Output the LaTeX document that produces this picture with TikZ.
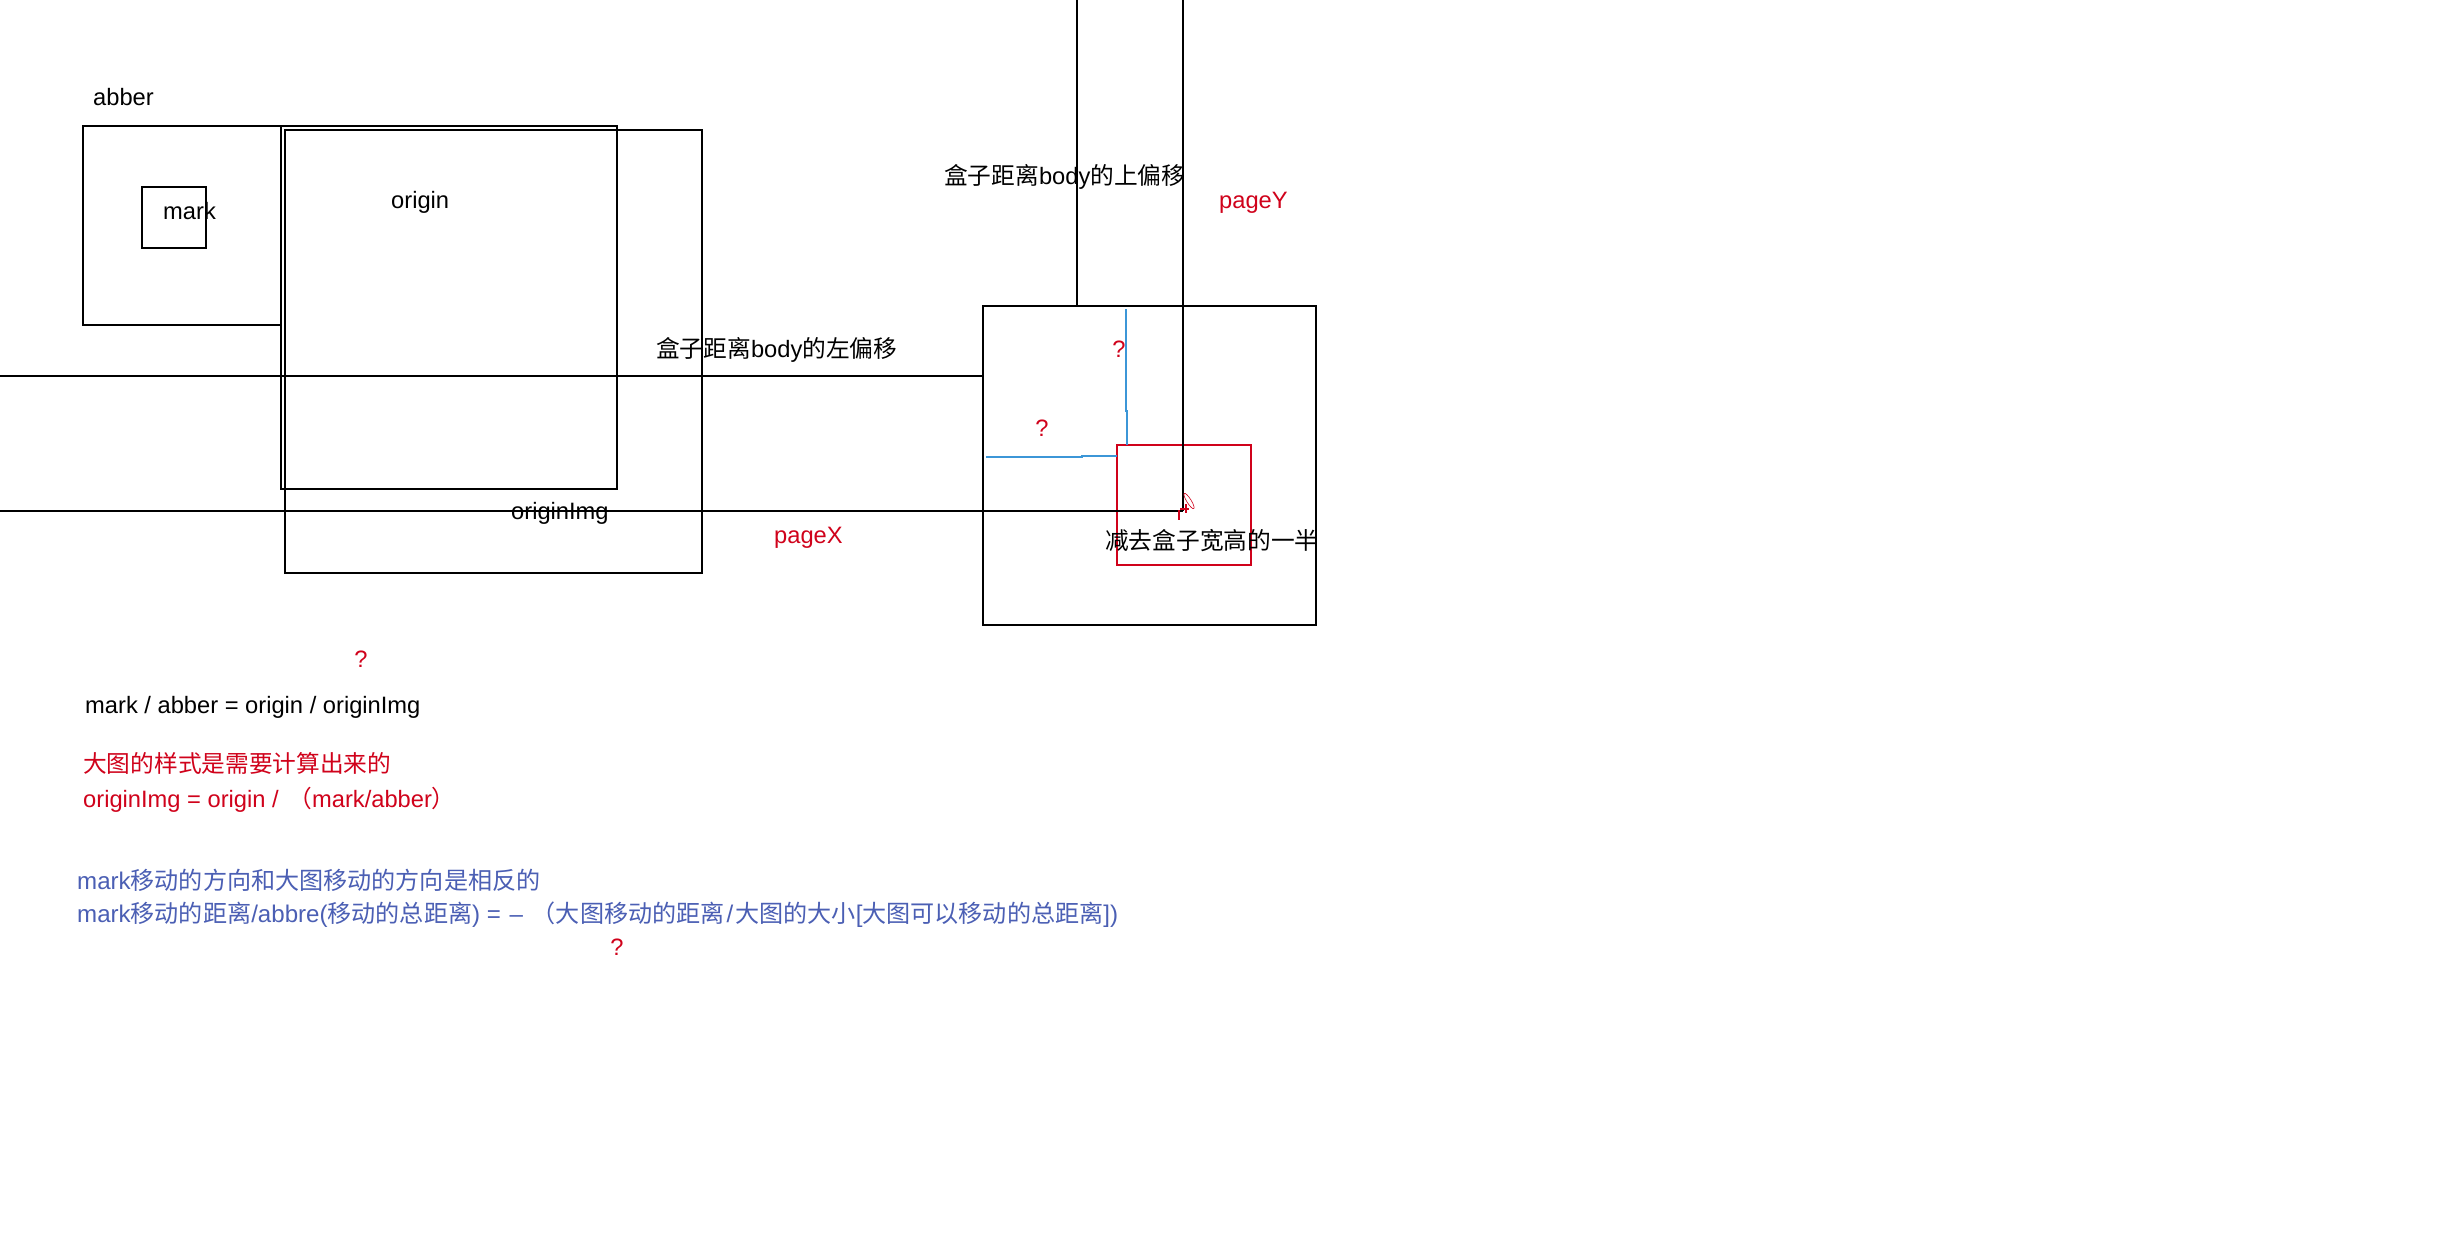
\documentclass[tikz,border=0pt]{standalone}
\usepackage{fontspec}
\setmainfont{Liberation Sans}
\newfontfamily\cjk{Noto Sans CJK SC}
\definecolor{myred}{RGB}{208,2,27}
\definecolor{myblue}{RGB}{75,95,180}
\definecolor{lineblue}{RGB}{60,150,215}
\begin{document}
\begin{tikzpicture}[x=1pt,y=-1pt,
  font=\fontsize{23.7}{28}\selectfont,
  txt/.style={inner sep=0pt, anchor=base west},
  qm/.style={inner sep=0pt, anchor=base, text=myred},
  ln/.style={line width=1.3pt, black},
  bl/.style={line width=1.2pt, lineblue},
  rb/.style={line width=1.2pt, myred}]
\useasboundingbox[fill=white] (0,0) rectangle (2451,1243);

% ---------- left boxes ----------
\draw[ln] (83,126) rectangle (281,325);      % abber
\draw[ln] (142,187) rectangle (206,248);     % mark
\draw[ln] (281,126) rectangle (617,489);     % origin
\draw[ln] (285,130) rectangle (702,573);     % originImg

\node[txt] (abber) at (93,105) {abber};
\node[txt] (mark) at (163,219) {mark};
\node[txt] (origin) at (391,208) {origin};
\node[txt] (originImg) at (511,519) {originImg};

% ---------- right box ----------
\draw[ln] (983,306) rectangle (1316,625);
\draw[rb] (1117,445) rectangle (1251,565);

% horizontal offset lines
\coordinate (h1a) at (0,376);
\coordinate (h1b) at (983,376);
\coordinate (h2a) at (0,511);
\coordinate (h2b) at (1183,511);
\draw[ln] (h1a) -- (h1b);
\draw[ln] (h2a) -- (h2b);

% vertical offset lines
\coordinate (v1a) at (1077,0);
\coordinate (v1b) at (1077,306);
\coordinate (v2a) at (1183,0);
\coordinate (v2b) at (1183,511);
\draw[ln] (v1a) -- (v1b);
\draw[ln] (v2a) -- (v2b);

% blue lines
\draw[bl] (1126,309) -- (1126,411) -- (1127,411) -- (1127,445);
\draw[bl] (986,457) -- (1082,457) -- (1082,456) -- (1117,456);

% red cursor doodle
\draw[myred, line width=2pt] (1179,510) -- (1179,520);
\draw[myred, line width=2pt] (1180,509) -- (1189,509);
\draw[myred, line width=1.6pt] (1186,504) -- (1186,513);
\draw[myred, line width=0.6pt, rotate around={-58:(1189,501)}] (1189,501) ellipse (9 and 2.2);

\node[txt] (left) at (656,357) {{\cjk 盒子距离}body{\cjk 的左偏移}};
\node[txt, text=myred] (pageX) at (774,543) {pageX};
\node[txt] (top) at (944,184) {{\cjk 盒子距离}body{\cjk 的上偏移}};
\node[txt, text=myred] (pageY) at (1219,208) {pageY};
\node[txt] (half) at (1105,549) {\cjk 减去盒子宽高的一半};
\node[qm] (q1) at (1119,357) {?};
\node[qm] (q2) at (1042,436) {?};

% ---------- bottom texts ----------
\node[qm] (q3) at (361,667) {?};
\node[txt] (eq1) at (85,713) {mark / abber = origin / originImg};
\node[txt, text=myred] (r1) at (83,772) {\cjk 大图的样式是需要计算出来的};
\node[txt, text=myred] (r2) at (83,807) {originImg = origin /\hspace{3pt} {\cjk （}mark/abber{\cjk ）}};
\node[txt, text=myblue, font=\fontsize{24.1}{28}\selectfont] (b1) at (77,889) {mark{\cjk 移动的方向和大图移动的方向是相反的}};
\node[txt, text=myblue, font=\fontsize{24.1}{28}\selectfont] (b2) at (77,922) {mark{\cjk 移动的距离}/abbre({\cjk 移动的总距离}) = \hspace{2pt}–\hspace{2pt} {\cjk （大图移动的距离}\hspace{2pt}/\hspace{2pt}{\cjk 大图的大小}[{\cjk 大图可以移动的总距离}])};
\node[qm] (q4) at (617,955) {?};
\end{tikzpicture}
\end{document}
